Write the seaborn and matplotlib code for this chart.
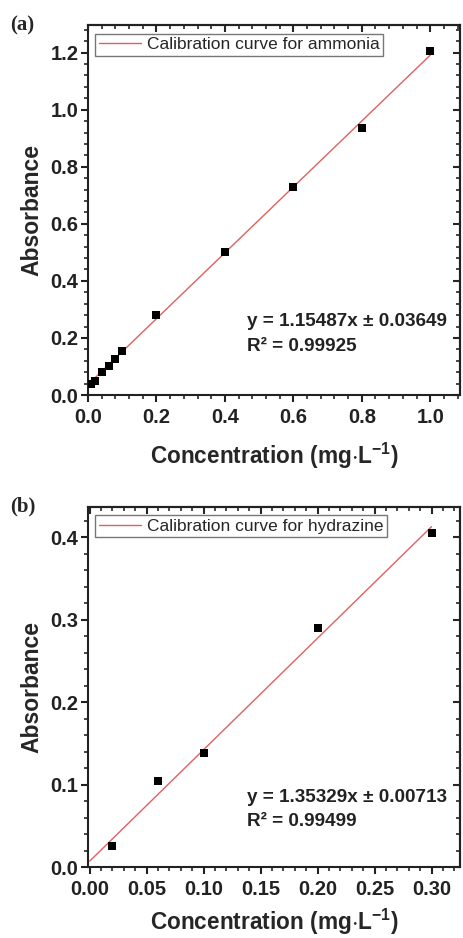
import numpy as np
import pandas as pd
import matplotlib
matplotlib.use("Agg")
import matplotlib.pyplot as plt
from matplotlib.ticker import MultipleLocator, AutoMinorLocator, FormatStrFormatter
import seaborn as sns

# ---- data ----
conc_a = [0.01, 0.02, 0.04, 0.06, 0.08, 0.10, 0.20, 0.40, 0.60, 0.80, 1.00]
abs_a = [0.040, 0.050, 0.080, 0.100, 0.125, 0.155, 0.280, 0.500, 0.730, 0.935, 1.205]
slope_a, intercept_a = 1.15487, 0.03649
label_a = "Calibration curve for ammonia"
eq_a = ["y = 1.15487x \u00b1 0.03649", "R\u00b2 = 0.99925"]

conc_b = [0.02, 0.06, 0.10, 0.20, 0.30]
abs_b = [0.026, 0.105, 0.138, 0.290, 0.405]
slope_b, intercept_b = 1.35329, 0.00713
label_b = "Calibration curve for hydrazine"
eq_b = ["y = 1.35329x \u00b1 0.00713", "R\u00b2 = 0.99499"]

sns.set_theme(style="ticks")
plt.rcParams['font.family'] = ['Liberation Sans', 'DejaVu Sans']
plt.rcParams['mathtext.default'] = 'regular'
plt.rcParams['axes.linewidth'] = 1.5

W, H = 463, 938
fig = plt.figure(figsize=(W / 100, H / 100), dpi=100)

def px_axes(l, t, r, b):
    return fig.add_axes([l / W, 1 - b / H, (r - l) / W, (b - t) / H])

ax_a = px_axes(88, 25, 460, 395)
ax_b = px_axes(88, 507, 460, 867)

red = "#e06060"

def draw(ax, conc, ab, slope, intercept, label, eq, xlim, ylim, xmaj, ymaj, xfmt, yfmt, eq_y, xlabelpad):
    df = pd.DataFrame({"Concentration": conc, "Absorbance": ab})
    xl = np.array([0.0, max(conc)])
    fit = pd.DataFrame({"x": xl, "y": slope * xl + intercept})
    sns.lineplot(data=fit, x="x", y="y", ax=ax, color=red, lw=1.0, label=label)
    sns.scatterplot(data=df, x="Concentration", y="Absorbance", ax=ax, marker="s",
                    s=34, color="black", edgecolor="black", linewidth=0, legend=False, zorder=3)
    ax.set_xlim(*xlim)
    ax.set_ylim(*ylim)
    ax.xaxis.set_major_locator(MultipleLocator(xmaj))
    ax.yaxis.set_major_locator(MultipleLocator(ymaj))
    ax.xaxis.set_minor_locator(AutoMinorLocator(5))
    ax.yaxis.set_minor_locator(AutoMinorLocator(5))
    ax.xaxis.set_major_formatter(FormatStrFormatter(xfmt))
    ax.yaxis.set_major_formatter(FormatStrFormatter(yfmt))
    ax.tick_params(which="major", direction="out", length=5, width=1.5,
                   labelsize=14.5, pad=2, colors="#222222")
    ax.tick_params(axis="x", which="major", pad=4)
    ax.tick_params(which="minor", direction="out", length=3, width=1.2)
    ax.tick_params(which="both", top=False, right=False)
    for lab in ax.get_xticklabels() + ax.get_yticklabels():
        lab.set_fontweight("bold")
    for sp in ax.spines.values():
        sp.set_color("#222222")
        sp.set_linewidth(1.5)
    ax.set_xlabel("Concentration (mg$\\cdot$L$^{-1}$)", fontsize=16.3, fontweight="bold",
                  labelpad=xlabelpad)
    ax.set_ylabel("Absorbance", fontsize=16.5, fontweight="bold", labelpad=5)
    leg = ax.legend(loc="upper left", bbox_to_anchor=(0.02, 0.977), borderaxespad=0,
                    fancybox=False, framealpha=1, edgecolor="#777777",
                    prop={"size": 12.5, "weight": "normal"}, handlelength=2.4,
                    handletextpad=0.35, borderpad=0.2)
    leg.get_frame().set_linewidth(1.0)
    ax.text(0.427, eq_y, eq[0], transform=ax.transAxes, fontsize=13.6, fontweight="bold",
            color="#222222", va="center", ha="left")
    ax.text(0.427, eq_y - 0.068, eq[1], transform=ax.transAxes, fontsize=13.6, fontweight="bold",
            color="#222222", va="center", ha="left")

draw(ax_a, conc_a, abs_a, slope_a, intercept_a, label_a, eq_a,
     (0.0, 1.087), (0.0, 1.297), 0.2, 0.2, "%.1f", "%.1f", (395 - 321) / 370, 10)
draw(ax_b, conc_b, abs_b, slope_b, intercept_b, label_b, eq_b,
     (-0.0015, 0.325), (0.0, 0.437), 0.05, 0.1, "%.2f", "%.1f", (867 - 797) / 360, 6)

# inward ticks on top/right via secondary axes
for ax in (ax_a, ax_b):
    sx = ax.secondary_xaxis("top")
    sx.xaxis.set_major_locator(ax.xaxis.get_major_locator())
    sx.xaxis.set_minor_locator(AutoMinorLocator(5))
    sx.tick_params(which="major", direction="in", length=5, width=1.5, labeltop=False)
    sx.tick_params(which="minor", direction="in", length=3, width=1.2)
    sx.spines["top"].set_linewidth(1.5)
    sy = ax.secondary_yaxis("right")
    sy.yaxis.set_major_locator(ax.yaxis.get_major_locator())
    sy.yaxis.set_minor_locator(AutoMinorLocator(5))
    sy.tick_params(which="major", direction="in", length=5, width=1.5, labelright=False)
    sy.tick_params(which="minor", direction="in", length=3, width=1.2)
    sy.spines["right"].set_linewidth(1.5)

fig.text(10 / W, 1 - 25 / H, "(a)", fontsize=15, fontweight="bold",
         family="Liberation Serif", va="center", ha="left")
fig.text(10 / W, 1 - 506 / H, "(b)", fontsize=15, fontweight="bold",
         family="Liberation Serif", va="center", ha="left")

fig.savefig("out.png", dpi=100)
